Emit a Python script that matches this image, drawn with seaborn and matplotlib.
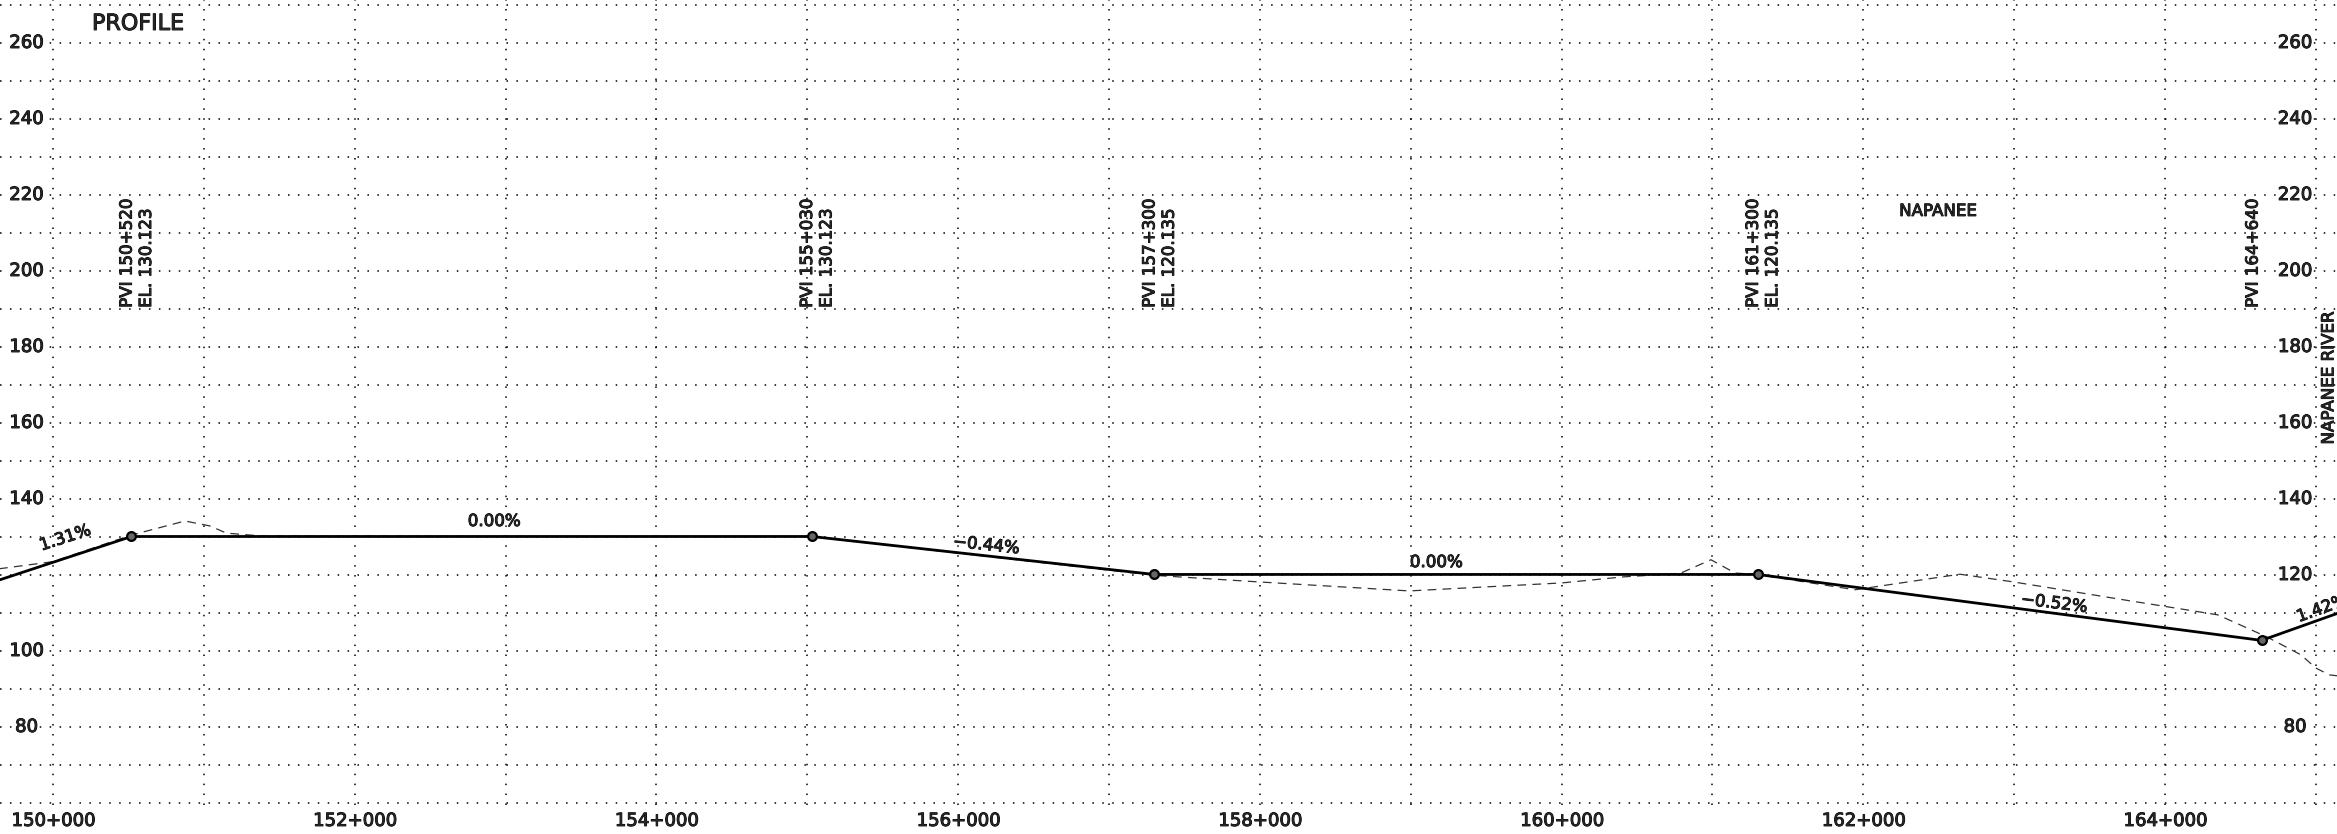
"""
Seaborn: road profile (PVI grades over existing ground)
"""
import matplotlib
matplotlib.use("Agg")
import matplotlib.pyplot as plt
import matplotlib.patheffects as pe
import seaborn as sns
import pandas as pd

# ------------ data
# design profile (solid): chainage in m, elevation in m
profile_sta = [149600, 150520, 155030, 157300, 161300, 164640, 165200]
profile_el = [118.1, 130.123, 130.123, 120.135, 120.135, 102.78, 110.7]

# points of vertical intersection
pvi_sta = [150520, 155030, 157300, 161300, 164640]
pvi_el = [130.123, 130.123, 120.135, 120.135, 102.78]
pvi_names = ["PVI 150+520", "PVI 155+030", "PVI 157+300", "PVI 161+300", "PVI 164+640"]
pvi_elev_text = ["EL. 130.123", "EL. 130.123", "EL. 120.135", "EL. 120.135", ""]

# existing ground (dashed)
ground_sta = [149600, 150000, 150520, 150875, 151040, 151150, 151400, 155030,
              157300, 157980, 158990, 160000, 160410, 160785, 160990, 161150,
              161300, 161945, 162640, 162990, 163735, 164225, 164350, 164675,
              164900, 165000, 165090, 165200]
ground_el = [121.4, 123.5, 130.5, 134.2, 132.9, 131.0, 130.2, 130.1,
             119.9, 118.2, 115.8, 117.9, 119.5, 120.4, 124.0, 120.5,
             120.1, 116.1, 120.2, 118.2, 113.4, 110.3, 109.5, 103.7,
             99.0, 95.5, 93.7, 93.2]

# grade labels
grade_text = ["1.31%", "0.00%", "\u22120.44%", "0.00%", "\u22120.52%", "1.42%"]
grade_sta = [150080, 152923, 156185, 159168, 163264, 165040]
grade_el = [129.8, 134.2, 127.9, 123.4, 112.6, 111.2]
grade_rot = [18, 0, -6, 0, -7, 20]

# axis labels
x_ticks = list(range(150000, 165001, 1000))
x_labels = ["150+000", "", "152+000", "", "154+000", "", "156+000", "",
            "158+000", "", "160+000", "", "162+000", "", "164+000", ""]
y_left = [260, 240, 220, 200, 180, 160, 140, 100, 80]
y_right = [260, 240, 220, 200, 180, 160, 140, 120, 80]

# ------------ figure
sns.set_style("white")
plt.rcParams['font.family'] = ['DejaVu Sans']
bold = [pe.withStroke(linewidth=0.7, foreground="black")]

fig = plt.figure(figsize=(23.37, 8.34), dpi=100)
ax = fig.add_axes([0, 0.0348, 1, 0.9652])
ax.set_xlim(149648.7, 165140)
ax.set_ylim(59.47, 271.3)

dots = (0, (1, 5.5))
for x in x_ticks:
    ax.axvline(x, color="black", lw=1.1, ls=dots, zorder=0)
for y in range(60, 271, 10):
    ax.axhline(y, color="black", lw=1.1, ls=dots, zorder=0)

ground_df = pd.DataFrame({"sta": ground_sta, "el": ground_el})
profile_df = pd.DataFrame({"sta": profile_sta, "el": profile_el})

sns.lineplot(data=ground_df, x="sta", y="el", sort=False, estimator=None,
             color="#333333", lw=0.9, ax=ax, zorder=2)
ax.lines[-1].set_linestyle((0, (7, 5)))
sns.lineplot(data=profile_df, x="sta", y="el", sort=False, estimator=None,
             color="black", lw=2.0, ax=ax, zorder=3)
sns.scatterplot(x=pvi_sta, y=pvi_el, s=40, color="#666666", edgecolor="black",
                linewidth=1.6, ax=ax, zorder=4)

for name, elev, x in zip(pvi_names, pvi_elev_text, pvi_sta):
    if elev:
        ax.annotate(name, (x, 190.3), xytext=(3, 0), textcoords="offset points",
                    rotation=90, ha="right", va="bottom", fontsize=12, path_effects=bold)
        ax.annotate(elev, (x, 190.3), xytext=(4, 0), textcoords="offset points",
                    rotation=90, ha="left", va="bottom", fontsize=12, path_effects=bold)
    else:
        ax.annotate(name, (x, 190.3), rotation=90, ha="right", va="bottom",
                    fontsize=12, path_effects=bold)

for t, x, y, r in zip(grade_text, grade_sta, grade_el, grade_rot):
    ax.text(x, y, t, rotation=r, ha="center", va="center", fontsize=12,
            rotation_mode="anchor", path_effects=bold)

ytr = ax.get_yaxis_transform()
for v in y_left:
    ax.text(0.0113, v, str(v), transform=ytr, ha="center", va="center", fontsize=13,
            bbox=dict(facecolor="white", edgecolor="none", pad=0.5), path_effects=bold)
for v in y_right:
    ax.text(0.982, v, str(v), transform=ytr, ha="center", va="center", fontsize=13,
            bbox=dict(facecolor="white", edgecolor="none", pad=0.5), path_effects=bold)

ax.text(150563, 265, "PROFILE", ha="center", va="center", fontsize=16, path_effects=bold)
ax.text(162495, 215.8, "NAPANEE", ha="center", va="center", fontsize=12, path_effects=bold)
ax.text(0.9963, 171.8, "NAPANEE RIVER", transform=ytr, rotation=90,
        ha="center", va="center", fontsize=12, path_effects=bold)

ax.set_xticks(x_ticks)
ax.set_xticklabels(x_labels, fontsize=13)
for lab in ax.get_xticklabels():
    lab.set_path_effects(bold)
ax.set_yticks([])
ax.tick_params(axis="x", length=0, pad=5)
ax.set_xlabel("")
ax.set_ylabel("")
for s in ax.spines.values():
    s.set_visible(False)

fig.savefig("out.png", dpi=100)
